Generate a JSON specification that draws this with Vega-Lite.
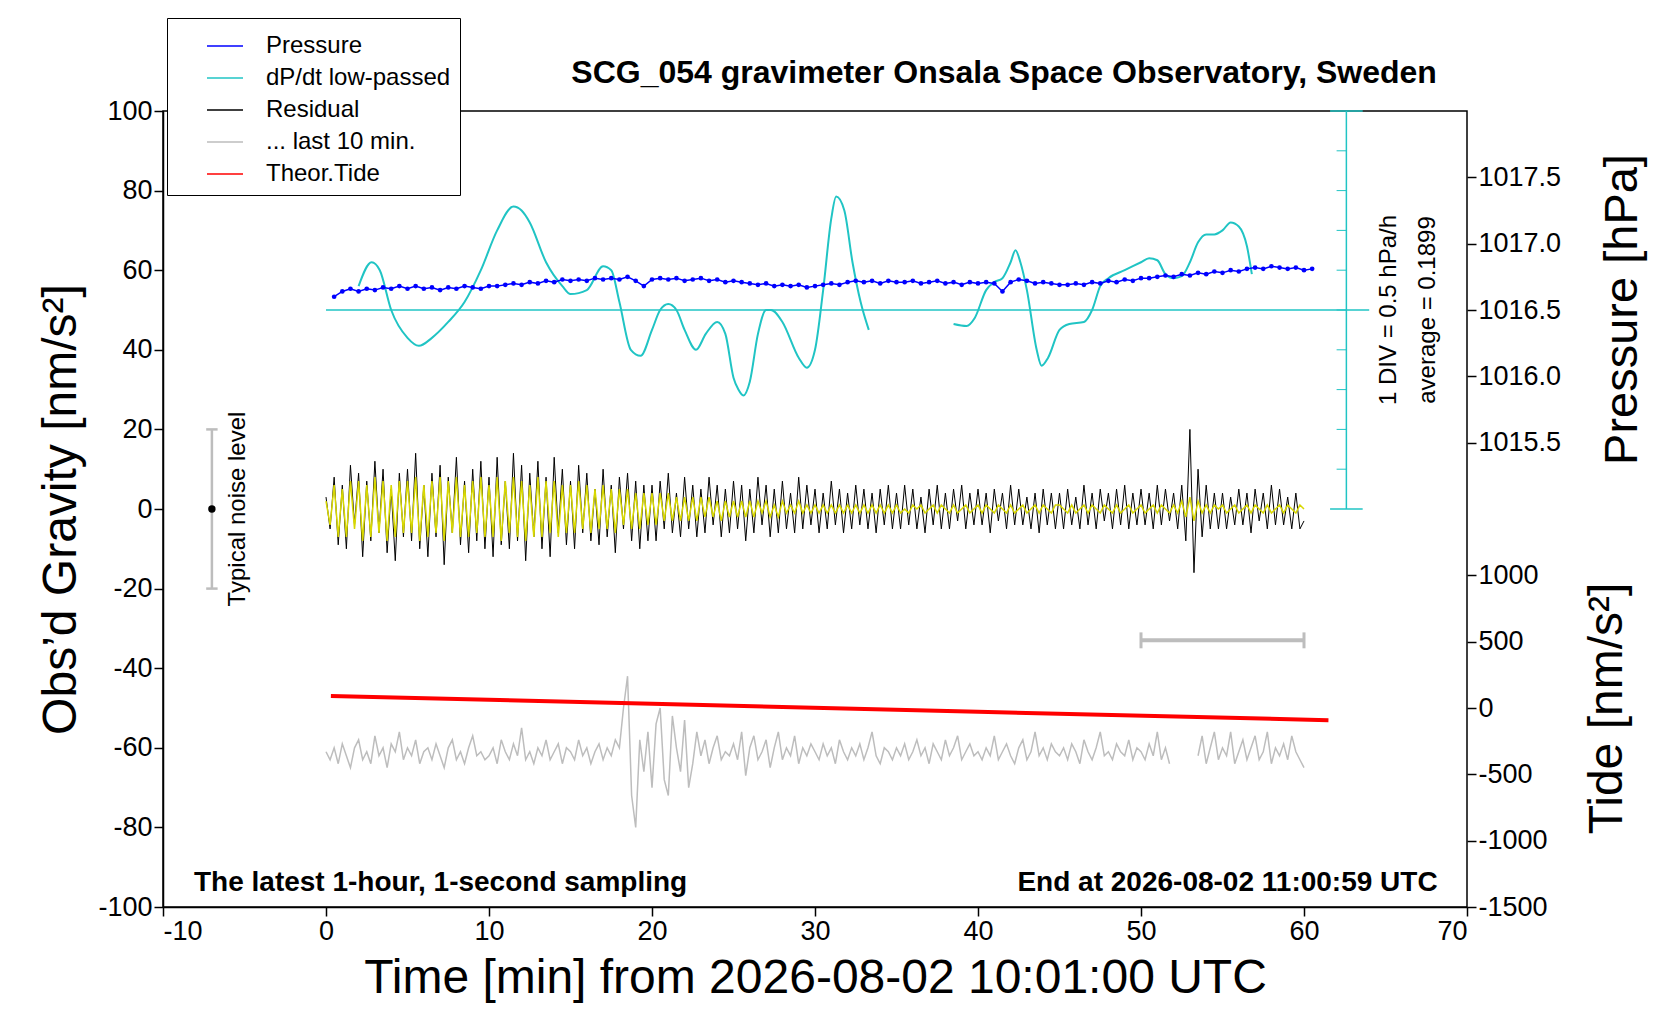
{
  "$schema": "https://vega.github.io/schema/vega-lite/v6.json",
  "width": 1304,
  "height": 796,
  "autosize": "none",
  "padding": {"left": 163, "top": 111, "right": 193, "bottom": 113},
  "config": {
    "font": "Liberation Sans",
    "view": {"stroke": "black", "strokeWidth": 1.5},
    "axis": {"labelFontSize": 27, "labelColor": "black", "titleColor": "black", "titleFontWeight": "normal", "grid": false, "domainColor": "black", "tickColor": "black", "domainWidth": 1.5, "tickWidth": 1.5, "tickSize": 9, "labelFont": "Liberation Sans", "titleFont": "Liberation Sans", "labelExpr": "'' + datum.value"},
    "legend": {"orient": "none", "legendX": 4, "legendY": -93, "fillColor": "white", "strokeColor": "black", "padding": 9, "labelFontSize": 24, "symbolType": "stroke", "symbolSize": 1300, "symbolStrokeWidth": 1.5, "symbolOffset": 30, "rowPadding": 1, "labelOffset": 22, "labelLimit": 400}
  },
  "datasets": {
    "main": [
      {"t":0,"r":3,"y":2,"g":-61},{"t":0.25,"r":-5,"y":-4,"g":-63},{"t":0.5,"r":8,"y":6,"g":-60},{"t":0.75,"r":-9,"y":-7,"g":-64},{"t":1,"r":6,"y":5,"g":-59},{"t":1.25,"r":-10,"y":-7,"g":-62},{"t":1.5,"r":11,"y":7,"g":-65},{"t":1.75,"r":-4,"y":-5,"g":-60},{"t":2,"r":9,"y":7,"g":-58},{"t":2.25,"r":-12,"y":-8,"g":-63},{"t":2.5,"r":7,"y":6,"g":-61},{"t":2.75,"r":-8,"y":-7,"g":-64},{"t":3,"r":12,"y":8,"g":-57},{"t":3.25,"r":-6,"y":-6,"g":-62},{"t":3.5,"r":10,"y":7,"g":-60},{"t":3.75,"r":-11,"y":-8,"g":-65},{"t":4,"r":5,"y":6,"g":-59},{"t":4.25,"r":-13,"y":-7,"g":-61},{"t":4.5,"r":9,"y":7,"g":-56},{"t":4.75,"r":-7,"y":-6,"g":-63},
      {"t":5,"r":10,"y":7,"g":-60},{"t":5.25,"r":-8,"y":-6,"g":-62},{"t":5.5,"r":14,"y":8,"g":-58},{"t":5.75,"r":-10,"y":-8,"g":-64},{"t":6,"r":6,"y":6,"g":-61},{"t":6.25,"r":-12,"y":-7,"g":-60},{"t":6.5,"r":9,"y":7,"g":-63},{"t":6.75,"r":-7,"y":-6,"g":-59},{"t":7,"r":11,"y":8,"g":-62},{"t":7.25,"r":-14,"y":-8,"g":-65},{"t":7.5,"r":8,"y":7,"g":-60},{"t":7.75,"r":-6,"y":-6,"g":-58},{"t":8,"r":13,"y":8,"g":-63},{"t":8.25,"r":-9,"y":-7,"g":-61},{"t":8.5,"r":7,"y":6,"g":-64},{"t":8.75,"r":-11,"y":-7,"g":-60},{"t":9,"r":10,"y":7,"g":-57},{"t":9.25,"r":-8,"y":-6,"g":-62},{"t":9.5,"r":12,"y":8,"g":-61},{"t":9.75,"r":-10,"y":-7,"g":-63},
      {"t":10,"r":8,"y":6,"g":-62},{"t":10.25,"r":-12,"y":-7,"g":-60},{"t":10.5,"r":13,"y":8,"g":-64},{"t":10.75,"r":-9,"y":-8,"g":-58},{"t":11,"r":7,"y":7,"g":-61},{"t":11.25,"r":-10,"y":-6,"g":-63},{"t":11.5,"r":14,"y":8,"g":-59},{"t":11.75,"r":-8,"y":-7,"g":-62},{"t":12,"r":11,"y":7,"g":-55},{"t":12.25,"r":-13,"y":-8,"g":-63},{"t":12.5,"r":9,"y":6,"g":-61},{"t":12.75,"r":-7,"y":-7,"g":-64},{"t":13,"r":12,"y":8,"g":-60},{"t":13.25,"r":-10,"y":-7,"g":-62},{"t":13.5,"r":8,"y":7,"g":-58},{"t":13.75,"r":-12,"y":-6,"g":-63},{"t":14,"r":13,"y":7,"g":-61},{"t":14.25,"r":-6,"y":-7,"g":-59},{"t":14.5,"r":10,"y":6,"g":-64},{"t":14.75,"r":-9,"y":-6,"g":-60},
      {"t":15,"r":7,"y":6,"g":-61},{"t":15.25,"r":-10,"y":-6,"g":-63},{"t":15.5,"r":11,"y":7,"g":-58},{"t":15.75,"r":-6,"y":-5,"g":-62},{"t":16,"r":9,"y":6,"g":-60},{"t":16.25,"r":-8,"y":-6,"g":-64},{"t":16.5,"r":5,"y":5,"g":-61},{"t":16.75,"r":-9,"y":-5,"g":-59},{"t":17,"r":10,"y":6,"g":-63},{"t":17.25,"r":-7,"y":-5,"g":-60},{"t":17.5,"r":6,"y":5,"g":-62},{"t":17.75,"r":-11,"y":-6,"g":-58},{"t":18,"r":8,"y":5,"g":-60},{"t":18.25,"r":-5,"y":-4,"g":-50},{"t":18.5,"r":9,"y":5,"g":-42},{"t":18.75,"r":-8,"y":-5,"g":-72},{"t":19,"r":7,"y":4,"g":-80},{"t":19.25,"r":-10,"y":-5,"g":-58},{"t":19.5,"r":6,"y":4,"g":-66},{"t":19.75,"r":-8,"y":-4,"g":-56},
      {"t":20,"r":6,"y":4,"g":-70},{"t":20.25,"r":-8,"y":-4,"g":-54},{"t":20.5,"r":7,"y":4,"g":-50},{"t":20.75,"r":-5,"y":-3,"g":-68},{"t":21,"r":9,"y":4,"g":-72},{"t":21.25,"r":-6,"y":-3,"g":-52},{"t":21.5,"r":4,"y":3,"g":-60},{"t":21.75,"r":-7,"y":-3,"g":-66},{"t":22,"r":8,"y":3,"g":-53},{"t":22.25,"r":-5,"y":-3,"g":-70},{"t":22.5,"r":6,"y":3,"g":-64},{"t":22.75,"r":-7,"y":-3,"g":-56},{"t":23,"r":5,"y":3,"g":-62},{"t":23.25,"r":-6,"y":-2,"g":-58},{"t":23.5,"r":8,"y":3,"g":-64},{"t":23.75,"r":-4,"y":-2,"g":-60},{"t":24,"r":6,"y":2,"g":-57},{"t":24.25,"r":-7,"y":-3,"g":-63},{"t":24.5,"r":5,"y":2,"g":-61},{"t":24.75,"r":-6,"y":-2,"g":-62},
      {"t":25,"r":7,"y":2,"g":-59},{"t":25.25,"r":-5,"y":-2,"g":-63},{"t":25.5,"r":6,"y":2,"g":-56},{"t":25.75,"r":-8,"y":-2,"g":-67},{"t":26,"r":5,"y":2,"g":-60},{"t":26.25,"r":-6,"y":-2,"g":-57},{"t":26.5,"r":8,"y":2,"g":-63},{"t":26.75,"r":-4,"y":-1,"g":-61},{"t":27,"r":6,"y":2,"g":-58},{"t":27.25,"r":-7,"y":-2,"g":-65},{"t":27.5,"r":5,"y":1,"g":-60},{"t":27.75,"r":-6,"y":-2,"g":-56},{"t":28,"r":7,"y":2,"g":-63},{"t":28.25,"r":-5,"y":-1,"g":-60},{"t":28.5,"r":4,"y":1,"g":-62},{"t":28.75,"r":-6,"y":-1,"g":-57},{"t":29,"r":8,"y":2,"g":-64},{"t":29.25,"r":-5,"y":-1,"g":-60},{"t":29.5,"r":6,"y":1,"g":-62},{"t":29.75,"r":-4,"y":-1,"g":-59},
      {"t":30,"r":5,"y":1,"g":-61},{"t":30.25,"r":-6,"y":-1,"g":-63},{"t":30.5,"r":4,"y":1,"g":-59},{"t":30.75,"r":-5,"y":-1,"g":-62},{"t":31,"r":7,"y":1,"g":-60},{"t":31.25,"r":-4,"y":-1,"g":-64},{"t":31.5,"r":5,"y":1,"g":-58},{"t":31.75,"r":-6,"y":-1,"g":-61},{"t":32,"r":4,"y":1,"g":-63},{"t":32.25,"r":-5,"y":-1,"g":-60},{"t":32.5,"r":6,"y":1,"g":-62},{"t":32.75,"r":-4,"y":-1,"g":-59},{"t":33,"r":5,"y":1,"g":-63},{"t":33.25,"r":-5,"y":-1,"g":-60},{"t":33.5,"r":4,"y":1,"g":-56},{"t":33.75,"r":-6,"y":-1,"g":-62},{"t":34,"r":5,"y":1,"g":-64},{"t":34.25,"r":-4,"y":-1,"g":-60},{"t":34.5,"r":6,"y":1,"g":-61},{"t":34.75,"r":-5,"y":-1,"g":-63},
      {"t":35,"r":4,"y":1,"g":-60},{"t":35.25,"r":-5,"y":-1,"g":-62},{"t":35.5,"r":6,"y":0,"g":-59},{"t":35.75,"r":-4,"y":-1,"g":-63},{"t":36,"r":5,"y":1,"g":-61},{"t":36.25,"r":-5,"y":0,"g":-58},{"t":36.5,"r":3,"y":1,"g":-62},{"t":36.75,"r":-6,"y":-1,"g":-60},{"t":37,"r":5,"y":0,"g":-64},{"t":37.25,"r":-4,"y":1,"g":-59},{"t":37.5,"r":6,"y":-1,"g":-61},{"t":37.75,"r":-5,"y":1,"g":-63},{"t":38,"r":4,"y":0,"g":-58},{"t":38.25,"r":-5,"y":-1,"g":-62},{"t":38.5,"r":5,"y":1,"g":-60},{"t":38.75,"r":-3,"y":-1,"g":-57},{"t":39,"r":6,"y":0,"g":-63},{"t":39.25,"r":-5,"y":1,"g":-61},{"t":39.5,"r":4,"y":-1,"g":-59},{"t":39.75,"r":-4,"y":0,"g":-62},
      {"t":40,"r":5,"y":1,"g":-61},{"t":40.25,"r":-4,"y":-1,"g":-63},{"t":40.5,"r":4,"y":1,"g":-60},{"t":40.75,"r":-6,"y":0,"g":-62},{"t":41,"r":5,"y":-1,"g":-57},{"t":41.25,"r":-3,"y":1,"g":-63},{"t":41.5,"r":4,"y":0,"g":-61},{"t":41.75,"r":-5,"y":-1,"g":-59},{"t":42,"r":6,"y":1,"g":-62},{"t":42.25,"r":-4,"y":-1,"g":-64},{"t":42.5,"r":5,"y":0,"g":-60},{"t":42.75,"r":-4,"y":1,"g":-58},{"t":43,"r":3,"y":-1,"g":-63},{"t":43.25,"r":-5,"y":0,"g":-61},{"t":43.5,"r":4,"y":1,"g":-56},{"t":43.75,"r":-6,"y":-1,"g":-62},{"t":44,"r":5,"y":1,"g":-60},{"t":44.25,"r":-4,"y":0,"g":-63},{"t":44.5,"r":4,"y":-1,"g":-59},{"t":44.75,"r":-5,"y":1,"g":-61},
      {"t":45,"r":4,"y":1,"g":-62},{"t":45.25,"r":-5,"y":0,"g":-60},{"t":45.5,"r":5,"y":-1,"g":-63},{"t":45.75,"r":-4,"y":1,"g":-59},{"t":46,"r":3,"y":-1,"g":-61},{"t":46.25,"r":-5,"y":0,"g":-64},{"t":46.5,"r":6,"y":1,"g":-58},{"t":46.75,"r":-4,"y":-1,"g":-61},{"t":47,"r":4,"y":1,"g":-63},{"t":47.25,"r":-5,"y":0,"g":-60},{"t":47.5,"r":5,"y":-1,"g":-56},{"t":47.75,"r":-3,"y":1,"g":-62},{"t":48,"r":4,"y":0,"g":-61},{"t":48.25,"r":-5,"y":-1,"g":-63},{"t":48.5,"r":5,"y":1,"g":-59},{"t":48.75,"r":-4,"y":-1,"g":-61},{"t":49,"r":6,"y":0,"g":-62},{"t":49.25,"r":-5,"y":1,"g":-58},{"t":49.5,"r":4,"y":-1,"g":-63},{"t":49.75,"r":-4,"y":0,"g":-60},
      {"t":50,"r":5,"y":1,"g":-61},{"t":50.25,"r":-4,"y":-1,"g":-63},{"t":50.5,"r":4,"y":0,"g":-59},{"t":50.75,"r":-5,"y":1,"g":-62},{"t":51,"r":6,"y":-1,"g":-56},{"t":51.25,"r":-4,"y":1,"g":-63},{"t":51.5,"r":5,"y":0,"g":-60},{"t":51.75,"r":-3,"y":-1,"g":-64},{"t":52,"r":4,"y":1,"g":null},{"t":52.25,"r":-5,"y":-1,"g":null},{"t":52.5,"r":6,"y":2,"g":null},{"t":52.75,"r":-8,"y":-2,"g":null},{"t":53,"r":20,"y":3,"g":null},{"t":53.25,"r":-16,"y":-3,"g":null},{"t":53.5,"r":10,"y":2,"g":-62},{"t":53.75,"r":-7,"y":-1,"g":-57},{"t":54,"r":6,"y":1,"g":-64},{"t":54.25,"r":-5,"y":-1,"g":-60},{"t":54.5,"r":4,"y":1,"g":-56},{"t":54.75,"r":-5,"y":0,"g":-63},
      {"t":55,"r":4,"y":1,"g":-60},{"t":55.25,"r":-5,"y":-1,"g":-62},{"t":55.5,"r":3,"y":0,"g":-56},{"t":55.75,"r":-4,"y":1,"g":-64},{"t":56,"r":5,"y":-1,"g":-61},{"t":56.25,"r":-4,"y":0,"g":-58},{"t":56.5,"r":4,"y":1,"g":-63},{"t":56.75,"r":-6,"y":-1,"g":-60},{"t":57,"r":5,"y":1,"g":-57},{"t":57.25,"r":-3,"y":0,"g":-63},{"t":57.5,"r":4,"y":-1,"g":-61},{"t":57.75,"r":-5,"y":1,"g":-56},{"t":58,"r":6,"y":-1,"g":-64},{"t":58.25,"r":-4,"y":0,"g":-60},{"t":58.5,"r":5,"y":1,"g":-62},{"t":58.75,"r":-4,"y":-1,"g":-59},{"t":59,"r":3,"y":1,"g":-63},{"t":59.25,"r":-5,"y":0,"g":-57},{"t":59.5,"r":4,"y":-1,"g":-61},{"t":59.75,"r":-5,"y":1,"g":-63},{"t":60,"r":-3,"y":0,"g":-65}
    ],
    "pressure": [
      {"t":0.5,"p":1016.60},{"t":1,"p":1016.64},{"t":1.5,"p":1016.66},{"t":2,"p":1016.64},{"t":2.5,"p":1016.66},{"t":3,"p":1016.65},{"t":3.5,"p":1016.67},{"t":4,"p":1016.66},{"t":4.5,"p":1016.68},{"t":5,"p":1016.66},
      {"t":5.5,"p":1016.68},{"t":6,"p":1016.66},{"t":6.5,"p":1016.67},{"t":7,"p":1016.65},{"t":7.5,"p":1016.67},{"t":8,"p":1016.66},{"t":8.5,"p":1016.68},{"t":9,"p":1016.67},{"t":9.5,"p":1016.66},{"t":10,"p":1016.68},
      {"t":10.5,"p":1016.68},{"t":11,"p":1016.69},{"t":11.5,"p":1016.70},{"t":12,"p":1016.69},{"t":12.5,"p":1016.71},{"t":13,"p":1016.70},{"t":13.5,"p":1016.72},{"t":14,"p":1016.71},{"t":14.5,"p":1016.73},{"t":15,"p":1016.72},
      {"t":15.5,"p":1016.73},{"t":16,"p":1016.72},{"t":16.5,"p":1016.74},{"t":17,"p":1016.73},{"t":17.5,"p":1016.74},{"t":18,"p":1016.73},{"t":18.5,"p":1016.75},{"t":19,"p":1016.72},{"t":19.5,"p":1016.68},{"t":20,"p":1016.73},
      {"t":20.5,"p":1016.74},{"t":21,"p":1016.73},{"t":21.5,"p":1016.74},{"t":22,"p":1016.72},{"t":22.5,"p":1016.73},{"t":23,"p":1016.74},{"t":23.5,"p":1016.72},{"t":24,"p":1016.73},{"t":24.5,"p":1016.71},{"t":25,"p":1016.72},
      {"t":25.5,"p":1016.71},{"t":26,"p":1016.70},{"t":26.5,"p":1016.69},{"t":27,"p":1016.70},{"t":27.5,"p":1016.68},{"t":28,"p":1016.69},{"t":28.5,"p":1016.68},{"t":29,"p":1016.69},{"t":29.5,"p":1016.67},{"t":30,"p":1016.68},
      {"t":30.5,"p":1016.69},{"t":31,"p":1016.70},{"t":31.5,"p":1016.69},{"t":32,"p":1016.71},{"t":32.5,"p":1016.72},{"t":33,"p":1016.71},{"t":33.5,"p":1016.72},{"t":34,"p":1016.70},{"t":34.5,"p":1016.72},{"t":35,"p":1016.71},
      {"t":35.5,"p":1016.71},{"t":36,"p":1016.72},{"t":36.5,"p":1016.70},{"t":37,"p":1016.71},{"t":37.5,"p":1016.72},{"t":38,"p":1016.70},{"t":38.5,"p":1016.71},{"t":39,"p":1016.69},{"t":39.5,"p":1016.71},{"t":40,"p":1016.70},
      {"t":40.5,"p":1016.71},{"t":41,"p":1016.70},{"t":41.5,"p":1016.64},{"t":42,"p":1016.71},{"t":42.5,"p":1016.73},{"t":43,"p":1016.72},{"t":43.5,"p":1016.70},{"t":44,"p":1016.71},{"t":44.5,"p":1016.70},{"t":45,"p":1016.69},
      {"t":45.5,"p":1016.69},{"t":46,"p":1016.70},{"t":46.5,"p":1016.69},{"t":47,"p":1016.71},{"t":47.5,"p":1016.70},{"t":48,"p":1016.72},{"t":48.5,"p":1016.71},{"t":49,"p":1016.73},{"t":49.5,"p":1016.72},{"t":50,"p":1016.74},
      {"t":50.5,"p":1016.74},{"t":51,"p":1016.75},{"t":51.5,"p":1016.76},{"t":52,"p":1016.75},{"t":52.5,"p":1016.77},{"t":53,"p":1016.76},{"t":53.5,"p":1016.78},{"t":54,"p":1016.77},{"t":54.5,"p":1016.79},{"t":55,"p":1016.78},
      {"t":55.5,"p":1016.80},{"t":56,"p":1016.79},{"t":56.5,"p":1016.81},{"t":57,"p":1016.82},{"t":57.5,"p":1016.81},{"t":58,"p":1016.83},{"t":58.5,"p":1016.82},{"t":59,"p":1016.81},{"t":59.5,"p":1016.82},{"t":60,"p":1016.80},{"t":60.5,"p":1016.81}
    ],
    "dpdt": [
      {"s":1,"t":2,"d":56},{"s":1,"t":2.8,"d":62},{"s":1,"t":3.3,"d":60},{"s":1,"t":4,"d":50},{"s":1,"t":5,"d":43},{"s":1,"t":5.7,"d":41},{"s":1,"t":6.5,"d":43},{"s":1,"t":7.5,"d":47},{"s":1,"t":8.5,"d":52},{"s":1,"t":9.5,"d":60},{"s":1,"t":10.5,"d":70},{"s":1,"t":11.5,"d":76},{"s":1,"t":12,"d":75},{"s":1,"t":12.5,"d":72},{"s":1,"t":13.5,"d":62},{"s":1,"t":14.5,"d":56},{"s":1,"t":15,"d":54},{"s":1,"t":16,"d":55},{"s":1,"t":17,"d":61},{"s":1,"t":17.5,"d":60},{"s":1,"t":18,"d":52},{"s":1,"t":18.7,"d":40},{"s":1,"t":19.3,"d":38.5},{"s":1,"t":20,"d":45},{"s":1,"t":20.5,"d":50},{"s":1,"t":21,"d":51.5},{"s":1,"t":21.5,"d":50},{"s":1,"t":22,"d":45},{"s":1,"t":22.7,"d":40},{"s":1,"t":23.3,"d":44},{"s":1,"t":24,"d":47},{"s":1,"t":24.5,"d":44},{"s":1,"t":25,"d":33},{"s":1,"t":25.3,"d":30},{"s":1,"t":25.6,"d":28.5},{"s":1,"t":26,"d":32},{"s":1,"t":26.5,"d":44},{"s":1,"t":27,"d":50},{"s":1,"t":27.3,"d":50},{"s":1,"t":28,"d":47},{"s":1,"t":29,"d":38},{"s":1,"t":29.5,"d":35.5},{"s":1,"t":30,"d":40},{"s":1,"t":30.5,"d":55},{"s":1,"t":31,"d":73},{"s":1,"t":31.3,"d":78.5},{"s":1,"t":31.8,"d":75},{"s":1,"t":32.3,"d":62},{"s":1,"t":32.8,"d":52},{"s":1,"t":33.3,"d":45},
      {"s":2,"t":38.5,"d":46.5},{"s":2,"t":39.3,"d":46},{"s":2,"t":39.8,"d":48},{"s":2,"t":40.5,"d":55},{"s":2,"t":41,"d":57},{"s":2,"t":41.5,"d":58},{"s":2,"t":42,"d":62},{"s":2,"t":42.3,"d":65},{"s":2,"t":42.6,"d":62},{"s":2,"t":43,"d":55},{"s":2,"t":43.6,"d":40},{"s":2,"t":43.9,"d":36},{"s":2,"t":44.3,"d":38},{"s":2,"t":45,"d":45},{"s":2,"t":45.6,"d":46.5},{"s":2,"t":46.5,"d":47},{"s":2,"t":47,"d":50},{"s":2,"t":47.5,"d":56},{"s":2,"t":48,"d":58},{"s":2,"t":49,"d":60},{"s":2,"t":50,"d":62},{"s":2,"t":50.5,"d":63},{"s":2,"t":51,"d":62.5},{"s":2,"t":51.5,"d":59},{"s":2,"t":52,"d":58},{"s":2,"t":52.5,"d":58.5},{"s":2,"t":53,"d":62},{"s":2,"t":53.5,"d":67},{"s":2,"t":54,"d":69},{"s":2,"t":54.5,"d":69},{"s":2,"t":55,"d":70},{"s":2,"t":55.5,"d":72},{"s":2,"t":56,"d":71},{"s":2,"t":56.5,"d":66},{"s":2,"t":56.8,"d":59}
    ],
    "tide": [
      {"t":0.3,"v":90},{"t":20,"v":32},{"t":40,"v":-28},{"t":61.5,"v":-92}
    ],
    "one": [{}]
  },
  "layer": [
    {
      "layer": [
        {
          "data": {"name": "main"},
          "mark": {"type": "line", "color": "black", "strokeWidth": 1},
          "encoding": {
            "x": {"field": "t", "type": "quantitative", "scale": {"domain": [-10, 70], "nice": false}, "axis": {"values": [-10, 0, 10, 20, 30, 40, 50, 60, 70], "title": "Time [min] from 2026-08-02 10:01:00 UTC", "titleFontSize": 48, "titlePadding": 10}},
            "y": {"field": "r", "type": "quantitative", "scale": {"domain": [-100, 100], "nice": false}, "axis": {"values": [-100, -80, -60, -40, -20, 0, 20, 40, 60, 80, 100], "title": "Obs’d Gravity [nm/s²]", "titleFontSize": 48, "titlePadding": 12}},
            "color": {"datum": "Residual", "type": "nominal", "scale": {"domain": ["Pressure", "dP/dt low-passed", "Residual", "... last 10 min.", "Theor.Tide"], "range": ["#0000ff", "#20c4c4", "black", "#bdbdbd", "#ff0000"]}, "legend": {"title": null}}
          }
        },
        {
          "data": {"name": "main"},
          "mark": {"type": "line", "color": "#d8d800", "strokeWidth": 1.5},
          "encoding": {
            "x": {"field": "t", "type": "quantitative"},
            "y": {"field": "y", "type": "quantitative", "title": "Obs’d Gravity [nm/s²]"}
          }
        },
        {
          "data": {"name": "main"},
          "transform": [{"filter": "datum.t < 52 && datum.g != null"}],
          "mark": {"type": "line", "strokeWidth": 1.5},
          "encoding": {
            "x": {"field": "t", "type": "quantitative"},
            "y": {"field": "g", "type": "quantitative", "title": "Obs’d Gravity [nm/s²]"},
            "color": {"datum": "... last 10 min.", "type": "nominal"}
          }
        },
        {
          "data": {"name": "main"},
          "transform": [{"filter": "datum.t >= 53.5"}],
          "mark": {"type": "line", "strokeWidth": 1.5, "color": "#bdbdbd"},
          "encoding": {
            "x": {"field": "t", "type": "quantitative"},
            "y": {"field": "g", "type": "quantitative", "title": "Obs’d Gravity [nm/s²]"}
          }
        },
        {
          "data": {"name": "dpdt"},
          "mark": {"type": "line", "strokeWidth": 2, "interpolate": "monotone"},
          "encoding": {
            "x": {"field": "t", "type": "quantitative"},
            "y": {"field": "d", "type": "quantitative", "title": "Obs’d Gravity [nm/s²]"},
            "detail": {"field": "s"},
            "color": {"datum": "dP/dt low-passed", "type": "nominal"}
          }
        },
        {
          "data": {"name": "one"},
          "mark": {"type": "rule", "color": "#20c4c4", "strokeWidth": 1.5},
          "encoding": {"x": {"datum": 0, "type": "quantitative"}, "x2": {"datum": 64}, "y": {"datum": 50, "type": "quantitative", "title": "Obs’d Gravity [nm/s²]"}}
        },
        {
          "data": {"name": "one"},
          "mark": {"type": "rule", "color": "#20c4c4", "strokeWidth": 1.5},
          "encoding": {"x": {"datum": 62.6, "type": "quantitative"}, "y": {"datum": 0, "type": "quantitative", "title": "Obs’d Gravity [nm/s²]"}, "y2": {"datum": 100}}
        },
        {
          "data": {"values": [{"v": 10}, {"v": 20}, {"v": 30}, {"v": 40}, {"v": 50}, {"v": 60}, {"v": 70}, {"v": 80}, {"v": 90}]},
          "mark": {"type": "rule", "color": "#20c4c4", "strokeWidth": 1},
          "encoding": {"x": {"datum": 62, "type": "quantitative"}, "x2": {"datum": 62.6}, "y": {"field": "v", "type": "quantitative", "title": "Obs’d Gravity [nm/s²]"}}
        },
        {
          "data": {"values": [{"v": 0}, {"v": 100}]},
          "mark": {"type": "rule", "color": "#20c4c4", "strokeWidth": 1.5},
          "encoding": {"x": {"datum": 61.6, "type": "quantitative"}, "x2": {"datum": 63.6}, "y": {"field": "v", "type": "quantitative", "title": "Obs’d Gravity [nm/s²]"}}
        },
        {
          "data": {"name": "one"},
          "mark": {"type": "rule", "color": "#bdbdbd", "strokeWidth": 4},
          "encoding": {"x": {"datum": 50, "type": "quantitative"}, "x2": {"datum": 60}, "y": {"datum": -33, "type": "quantitative", "title": "Obs’d Gravity [nm/s²]"}}
        },
        {
          "data": {"values": [{"v": 50}, {"v": 60}]},
          "mark": {"type": "rule", "color": "#bdbdbd", "strokeWidth": 3},
          "encoding": {"x": {"field": "v", "type": "quantitative"}, "y": {"datum": -31, "type": "quantitative", "title": "Obs’d Gravity [nm/s²]"}, "y2": {"datum": -35}}
        },
        {
          "data": {"name": "one"},
          "mark": {"type": "rule", "color": "#bdbdbd", "strokeWidth": 2.5},
          "encoding": {"x": {"datum": -7, "type": "quantitative"}, "y": {"datum": -20, "type": "quantitative", "title": "Obs’d Gravity [nm/s²]"}, "y2": {"datum": 20}}
        },
        {
          "data": {"values": [{"v": -20}, {"v": 20}]},
          "mark": {"type": "rule", "color": "#bdbdbd", "strokeWidth": 2.5},
          "encoding": {"x": {"datum": -7.35, "type": "quantitative"}, "x2": {"datum": -6.65}, "y": {"field": "v", "type": "quantitative", "title": "Obs’d Gravity [nm/s²]"}}
        },
        {
          "data": {"name": "one"},
          "mark": {"type": "circle", "color": "black", "size": 55, "opacity": 1},
          "encoding": {"x": {"datum": -7, "type": "quantitative"}, "y": {"datum": 0, "type": "quantitative", "title": "Obs’d Gravity [nm/s²]"}}
        },
        {
          "data": {"name": "one"},
          "mark": {"type": "text", "text": "Typical noise level", "angle": 270, "fontSize": 24, "align": "center", "baseline": "middle", "color": "black"},
          "encoding": {"x": {"datum": -5.4, "type": "quantitative"}, "y": {"datum": 0, "type": "quantitative", "title": "Obs’d Gravity [nm/s²]"}}
        },
        {
          "data": {"name": "one"},
          "mark": {"type": "text", "text": "1 DIV = 0.5 hPa/h", "angle": 270, "fontSize": 24, "align": "center", "baseline": "middle", "color": "black"},
          "encoding": {"x": {"datum": 65.2, "type": "quantitative"}, "y": {"datum": 50, "type": "quantitative", "title": "Obs’d Gravity [nm/s²]"}}
        },
        {
          "data": {"name": "one"},
          "mark": {"type": "text", "text": "average = 0.1899", "angle": 270, "fontSize": 24, "align": "center", "baseline": "middle", "color": "black"},
          "encoding": {"x": {"datum": 67.6, "type": "quantitative"}, "y": {"datum": 50, "type": "quantitative", "title": "Obs’d Gravity [nm/s²]"}}
        },
        {
          "data": {"name": "one"},
          "mark": {"type": "text", "text": "The latest 1-hour, 1-second sampling", "fontSize": 28, "fontWeight": "bold", "align": "left", "baseline": "middle", "color": "black"},
          "encoding": {"x": {"datum": -8.1, "type": "quantitative"}, "y": {"datum": -94, "type": "quantitative", "title": "Obs’d Gravity [nm/s²]"}}
        },
        {
          "data": {"name": "one"},
          "mark": {"type": "text", "text": "End at 2026-08-02 11:00:59 UTC", "fontSize": 28, "fontWeight": "bold", "align": "right", "baseline": "middle", "color": "black"},
          "encoding": {"x": {"datum": 68.2, "type": "quantitative"}, "y": {"datum": -94, "type": "quantitative", "title": "Obs’d Gravity [nm/s²]"}}
        },
        {
          "data": {"name": "one"},
          "mark": {"type": "text", "text": "SCG_054 gravimeter Onsala Space Observatory, Sweden", "fontSize": 32, "fontWeight": "bold", "align": "center", "baseline": "middle", "color": "black"},
          "encoding": {"x": {"datum": 41.6, "type": "quantitative"}, "y": {"datum": 109.5, "type": "quantitative", "title": "Obs’d Gravity [nm/s²]"}}
        }
      ]
    },
    {
      "data": {"name": "pressure"},
      "mark": {"type": "line", "strokeWidth": 1.5, "point": {"filled": true, "size": 22, "color": "#0000ff"}},
      "encoding": {
        "x": {"field": "t", "type": "quantitative"},
        "y": {"field": "p", "type": "quantitative", "scale": {"domain": [1012, 1018], "nice": false, "zero": false}, "axis": {"orient": "right", "offset": 0, "values": [1015.5, 1016, 1016.5, 1017, 1017.5], "labelExpr": "format(datum.value, '.1f')", "title": "Pressure [hPa]", "titleFontSize": 47, "titleAngle": 270, "titleX": 155, "titleY": 198, "titleAlign": "center", "titleBaseline": "middle", "domain": false}},
        "color": {"datum": "Pressure", "type": "nominal"}
      }
    },
    {
      "data": {"name": "tide"},
      "mark": {"type": "line", "strokeWidth": 4},
      "encoding": {
        "x": {"field": "t", "type": "quantitative"},
        "y": {"field": "v", "type": "quantitative", "scale": {"domain": [-1500, 4500], "nice": false, "zero": false}, "axis": {"orient": "right", "offset": 0, "values": [-1500, -1000, -500, 0, 500, 1000], "title": "Tide [nm/s²]", "titleFontSize": 48, "titleAngle": 270, "titleX": 140, "titleY": 597, "titleAlign": "center", "titleBaseline": "middle", "domain": false}},
        "color": {"datum": "Theor.Tide", "type": "nominal"}
      }
    }
  ],
  "resolve": {"scale": {"y": "independent"}}
}
